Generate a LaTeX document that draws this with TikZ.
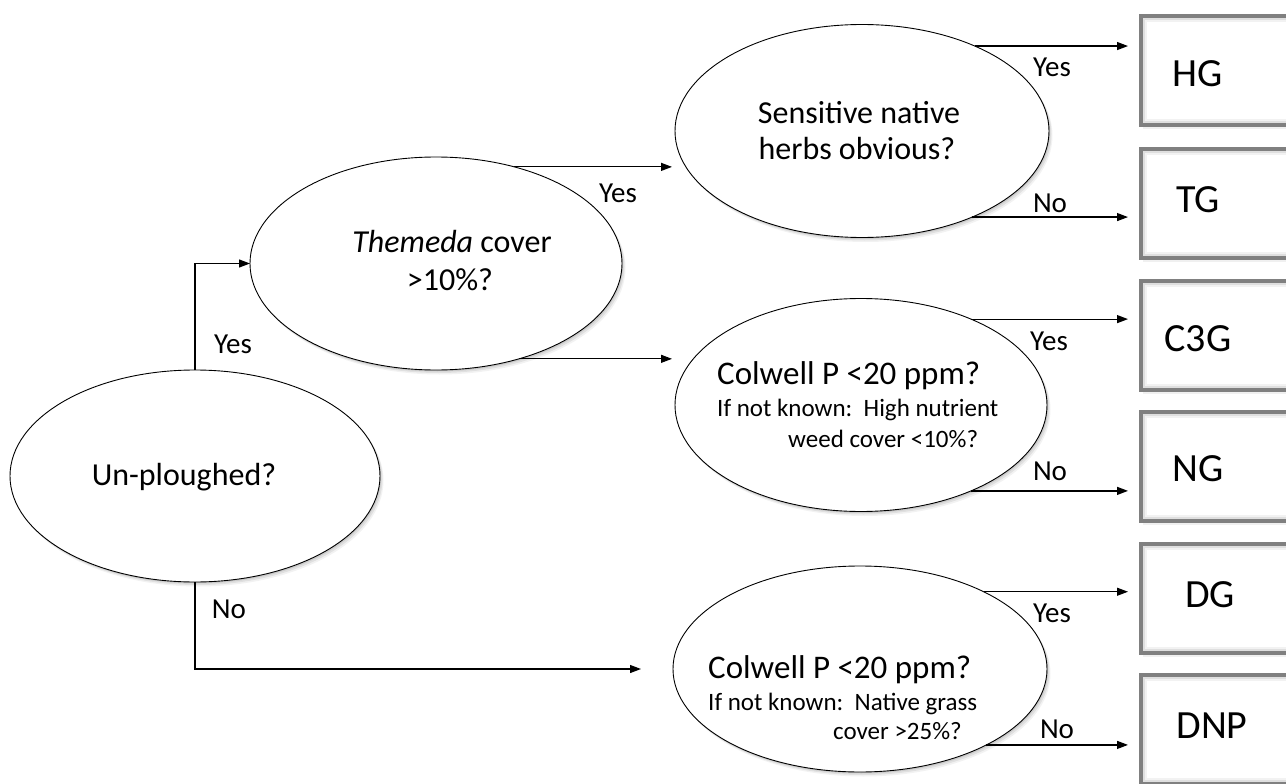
\documentclass[tikz,border=0pt]{standalone}
\usepackage{fontspec}
\setmainfont{Carlito}
\usetikzlibrary{arrows.meta,shapes.geometric,shadows}
\definecolor{boxgray}{RGB}{128,128,128}
\begin{document}
\begin{tikzpicture}[x=1pt,y=-1pt,
  q/.style={ellipse, draw=black, line width=0.9pt, fill=white, inner sep=0pt, outer sep=0pt,
    drop shadow={shadow xshift=3.5pt, shadow yshift=-4.5pt, opacity=0.05, fill=black},
    drop shadow={shadow xshift=2.5pt, shadow yshift=-3pt, opacity=0.07, fill=black},
    drop shadow={shadow xshift=1.2pt, shadow yshift=-1.5pt, opacity=0.09, fill=black}},
  outbox/.style={rectangle, draw=boxgray, line width=4pt, fill=white, minimum width=200pt,
    minimum height=109pt, anchor=west, inner sep=0pt, outer sep=0pt,
    drop shadow={shadow xshift=2pt, shadow yshift=-4pt, opacity=0.06, fill=black},
    drop shadow={shadow xshift=1pt, shadow yshift=-2pt, opacity=0.08, fill=black}},
  qtxt/.style={inner sep=0pt, font=\fontsize{32}{36}\selectfont},
  subtxt/.style={inner sep=0pt, anchor=base west, font=\fontsize{25}{30}\selectfont},
  lab/.style={inner sep=0pt, anchor=base, font=\fontsize{29}{34}\selectfont},
  boxtxt/.style={inner sep=0pt, anchor=base, font=\fontsize{40}{48}\selectfont},
  conn/.style={line width=1.2pt, -{Triangle[length=11pt,width=8pt]}}
]
\useasboundingbox (0,0) rectangle (1286,784);
\clip (0,0) rectangle (1286,784);
\fill[white] (0,0) rectangle (1286,784);

% decision ellipses
\node[q, minimum width=370pt, minimum height=212pt] (u) at (195,476) {};
\node[q, minimum width=372pt, minimum height=213pt] (t) at (436,263.5) {};
\node[q, minimum width=374pt, minimum height=213pt] (s) at (862,131) {};
\node[q, minimum width=372pt, minimum height=213pt] (c1) at (861,405) {};
\node[q, minimum width=374pt, minimum height=206pt] (c2) at (860,669) {};

% outcome boxes
\node[outbox] (hg) at (1141,70.5) {};
\node[outbox] (tg) at (1141,203.5) {};
\node[outbox] (c3g) at (1141,335.5) {};
\node[outbox] (ng) at (1141,466.5) {};
\node[outbox] (dg) at (1141,598.5) {};
\node[outbox] (dnp) at (1141,729.5) {};
\foreach \b in {hg,tg,c3g,ng,dg,dnp}{
  \draw[gray!25, line width=2pt] ([shift={(3,3)}]\b.north west) rectangle ([shift={(-3,-3)}]\b.south east);
  \draw[gray!10, line width=2pt] ([shift={(5,5)}]\b.north west) rectangle ([shift={(-5,-5)}]\b.south east);
}

% ellipse texts
\node[qtxt, anchor=base] (ut) at (184,485) {Un-ploughed?};
\node[qtxt, anchor=base] (tt1) at (452,252) {\textit{Themeda} cover};
\node[qtxt, anchor=base] (tt2) at (450,290) {>10\%?};
\node[qtxt, anchor=base] (st1) at (859,123) {Sensitive native};
\node[qtxt, anchor=base] (st2) at (857,159) {herbs obvious?};
\node[qtxt, anchor=base west, font=\fontsize{33}{36}\selectfont] (c1a) at (717,384) {Colwell P <20 ppm?};
\node[subtxt] (c1b) at (717,416) {If not known:\ \ High nutrient};
\node[subtxt] (c1c) at (788,447) {weed cover <10\%?};
\node[qtxt, anchor=base west, font=\fontsize{33}{36}\selectfont] (c2a) at (708,678) {Colwell P <20 ppm?};
\node[subtxt] (c2b) at (708,710) {If not known:\ \ Native grass};
\node[subtxt] (c2c) at (833,739) {cover >25\%?};

% box texts
\node[boxtxt] (hgt) at (1198,87) {HG};
\node[boxtxt] (tgt) at (1198,212) {TG};
\node[boxtxt] (c3gt) at (1198,351) {C3G};
\node[boxtxt] (ngt) at (1198,481) {NG};
\node[boxtxt] (dgt) at (1210,607) {DG};
\node[boxtxt] (dnpt) at (1212,738) {DNP};

% connectors
\draw[conn] (u.north) |- (t.west);
\draw[conn] (u.south) |- ([xshift=-32pt]c2.west);
\draw[conn, shorten >=3pt] (t.51) -- (t.51 -| s.west);
\draw[conn, shorten >=3pt] (t.-49) -- (t.-49 -| c1.west);
\draw[conn, shorten >=13pt] (s.37) -- (s.37 -| hg.west);
\draw[conn, shorten >=13pt] (s.-38) -- (s.-38 -| tg.west);
\draw[conn, shorten >=13pt] (c1.38) -- (c1.38 -| c3g.west);
\draw[conn, shorten >=13pt] (c1.-38) -- (c1.-38 -| ng.west);
\draw[conn, shorten >=13pt] (c2.32) -- (c2.32 -| dg.west);
\draw[conn, shorten >=13pt] (c2.-31) -- (c2.-31 -| dnp.west);

% branch labels
\node[lab] (uy) at (233,353) {Yes};
\node[lab] (un) at (229,618) {No};
\node[lab] (ty) at (618,202) {Yes};
\node[lab] (sy) at (1052,77) {Yes};
\node[lab] (sn) at (1050,212) {No};
\node[lab] (c1y) at (1049,350) {Yes};
\node[lab] (c1n) at (1050,480) {No};
\node[lab] (c2y) at (1052,622) {Yes};
\node[lab] (c2n) at (1057,738) {No};
\end{tikzpicture}
\end{document}
